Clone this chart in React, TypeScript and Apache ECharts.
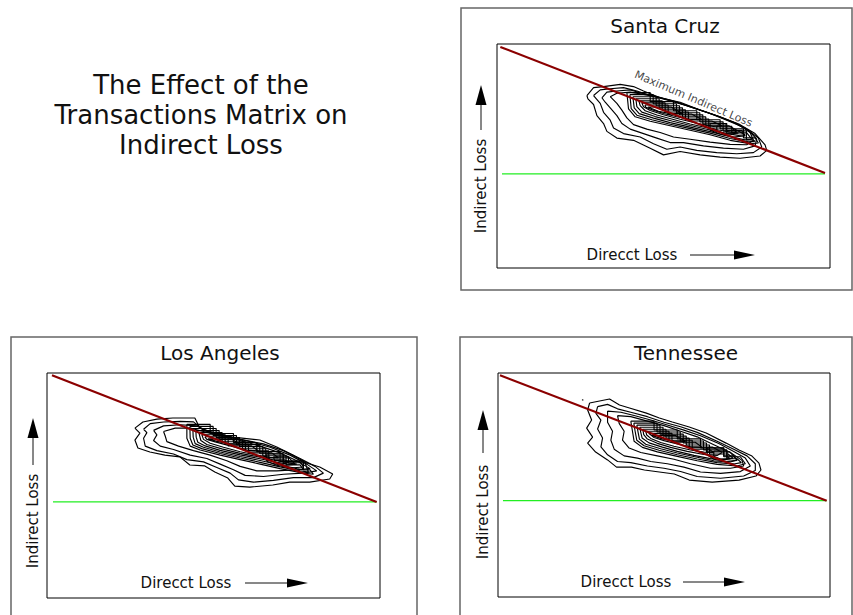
import React, { useEffect, useRef } from "react";
import * as echarts from "echarts";

// ---------- text ----------
const mainTitleLines = ["The Effect of the", "Transactions Matrix on", "Indirect Loss"];
const panelNames = ["Santa Cruz", "Los Angeles", "Tennessee"];
const xAxisName = "Direcct Loss";
const yAxisName = "Indirect Loss";
const maxLineLabel = "Maximum Indirect Loss";

// ---------- data (axis units 0..100 on both axes) ----------
const santaCruzMaxLine = [[1, 98.7], [98.5, 42.4]];
const santaCruzBaseLine = [[1.5, 42], [98.5, 42]];
const santaCruzLabelPoint = [[59, 75.5]];
const santaCruzContours = [
  [[27,77],[29,80.5],[32,81],[37,82],[41,81],[44,79],[49,76],[55,74],[61,70.5],[67,67.5],[73,64],[77.5,60],[80.5,55],[81,52.5],[79,50],[73,49],[67,49.5],[61,50.5],[55,52],[50,50.5],[46,53.5],[41,57],[36,58],[33,61],[32,64.5],[30,68],[29,73],[27.3,75.5],[27,77]],
  [[29,77],[31,79.5],[34,80],[38,80.5],[42,79],[46,77],[51,75],[57,72.5],[63,69.5],[69,66],[74.5,62.5],[78.5,58],[79.5,54],[77,51.5],[72,51],[66,51.5],[60,52.5],[55,54],[51,53],[47,55.5],[43,58.5],[38,60],[35,62.5],[34,66],[32,69.5],[31,73.5],[29,77]],
  [[31.5,76],[33,78.5],[36,79],[40,79.5],[43.5,78],[48,76.5],[53,74.5],[59,71.5],[65,68.5],[71,65],[75.5,61.5],[78,57.5],[77.5,54.5],[74,53],[68,53.5],[62,54.5],[56,56],[52,56],[48,58],[44,60],[40,62],[37.5,64.5],[36,68],[34,71.5],[32.5,74],[31.5,76]],
  [[34,76.5],[36,78],[40,78.5],[44,77.5],[49,76],[54,74],[60,71],[66,68],[72,64.5],[76,60.5],[77,57],[75,55],[70,55.2],[64,56.2],[58,57.5],[53,58.5],[49,60.5],[45,62],[41,64],[39,67],[37.5,70.5],[36,73.5],[34,76.5]],
  [[39,78.3],[46,78.3],[46,74.26],[53,74.26],[53,70.22],[60,70.22],[60,66.18],[67,66.18],[67,62.14],[74,62.14],[74,58.1],[77.5,58.1],[78.5,55.8],[76,55.5],[70,57],[64,59.5],[58,61.5],[52,63.5],[46,65.5],[41.5,67.5],[39.5,71],[39,78.3]],
  [[39.9,77.38],[46.9,77.38],[46.9,73.34],[53.9,73.34],[53.9,69.3],[60.9,69.3],[60.9,65.26],[67.9,65.26],[67.9,61.22],[74.9,61.22],[74.9,57.18],[76.8,57.18],[77.6,56.6],[75.5,56.3],[70,57.8],[64,60.2],[58,62.2],[52,64.2],[46.5,66.2],[42,68.2],[40.3,71.2],[39.9,77.38]],
  [[40.8,76.46],[47.8,76.46],[47.8,72.42],[54.8,72.42],[54.8,68.38],[61.8,68.38],[61.8,64.34],[68.8,64.34],[68.8,60.3],[75,60.3],[76.5,57.5],[74.5,57.2],[70,58.6],[64,60.9],[58,62.9],[52,64.9],[47,66.9],[42.7,68.9],[41.2,71.5],[40.8,76.46]],
  [[41.7,75.54],[48.7,75.54],[48.7,71.5],[55.7,71.5],[55.7,67.46],[62.7,67.46],[62.7,63.42],[69.7,63.42],[74.5,59.5],[72.5,59.2],[69,60],[64,61.6],[58,63.6],[52.5,65.6],[47.5,67.6],[43.5,69.6],[42,72],[41.7,75.54]],
  [[42.6,74.62],[49.6,74.62],[49.6,70.58],[56.6,70.58],[56.6,66.54],[63.6,66.54],[63.6,62.5],[70.5,62.5],[72,60.6],[70,60.7],[64,62.3],[58,64.3],[53,66.3],[48,68.3],[44.5,70.2],[43,72.5],[42.6,74.62]],
  [[43.5,73.7],[50.5,73.7],[50.5,69.66],[57.5,69.66],[57.5,65.62],[64.5,65.62],[67.5,63.5],[65,63.2],[60,64.6],[55,66.4],[50,68.4],[46,70.3],[44,72],[43.5,73.7]],
  [[44.4,72.78],[51.4,72.78],[51.4,68.74],[58.4,68.74],[61.5,66.3],[58,66.3],[54,67.5],[50,69],[46.5,70.7],[44.7,71.8],[44.4,72.78]],
  [[45.3,71.86],[52.3,71.86],[55.5,69],[52,68.9],[48.5,70],[45.3,71.86]],
  [[64,64.5],[69,64.5],[69,61.3],[73.5,61.3],[74.5,59],[71,58.5],[67,59.8],[64,61.5],[64,64.5]],
  [[66,63.3],[70.5,63.3],[70.5,60.5],[72.5,60.2],[69,59.8],[66,61.2],[66,63.3]],
];

const losAngelesMaxLine = [[1.5, 99], [99, 42.7]];
const losAngelesBaseLine = [[1.8, 42.7], [99, 42.7]];
const losAngelesContours = [
  [[26.4,75.5],[28.8,78.2],[33,79.5],[37.8,80],[44.4,80],[45.9,75.5],[50.4,73.3],[55.8,71.5],[63.9,70.2],[69,67.1],[73.8,63.5],[78,60],[81.9,58.2],[85.8,55.1],[84.9,52.9],[78.9,51.5],[72.9,51.5],[67.8,50.2],[60.9,49.3],[56.4,49.7],[54.3,53.3],[50.4,56],[47.4,58.7],[42.9,59.1],[39.9,62.7],[35.4,63.5],[30.9,64.9],[27.3,66.7],[26.4,70.2],[27.9,73.3],[26.4,75.5]],
  [[29,75],[31,77.5],[35,78.2],[40,78.5],[44,78.3],[47,74.5],[52,72.5],[58,70.5],[65,68.5],[71,65.5],[76,62],[80.5,58.5],[83,55.5],[80,53.5],[74,53.5],[68,52.3],[62,51.5],[57.5,52.5],[55,55.5],[51,58],[47,60.5],[42,61.5],[38,64],[33,65.5],[29.5,67.5],[29,71],[30,73.5],[29,75]],
  [[32,74.5],[35,76.5],[40,77],[45,76.5],[49,73.5],[55,71.5],[61,69.5],[67,67],[73,63.5],[78,59.5],[81,56.5],[77,55.5],[71,55],[65,54],[59.5,54.5],[56,57],[52,59.5],[48,62],[43,63.5],[38,66],[34,67.5],[32,70],[33,72.5],[32,74.5]],
  [[35,74],[38.5,75.5],[43,75.5],[47,74],[52,72],[58,70],[64,67.5],[70,64.5],[75,61],[79,57.5],[75,57],[69,56.5],[63,56.5],[58,58.5],[54,61],[49,63.5],[44,65.5],[39.5,67.5],[36,69.5],[35.5,72],[35,74]],
  [[42,77.17],[49,77.17],[49,73.13],[56,73.13],[56,69.09],[63,69.09],[63,65.05],[70,65.05],[70,61.01],[77,61.01],[77,56.97],[79,56.97],[80,55],[77,55.5],[70,57.5],[64,59.5],[58,61.5],[52,63.5],[46,65.8],[43,67.5],[42,71],[42,77.17]],
  [[42.9,76.25],[49.9,76.25],[49.9,72.21],[56.9,72.21],[56.9,68.17],[63.9,68.17],[63.9,64.13],[70.9,64.13],[70.9,60.09],[77.5,60.09],[78.5,56],[76,56.5],[70,58.3],[64,60.3],[58,62.2],[52,64.2],[46.5,66.4],[43.8,68],[43,71],[42.9,76.25]],
  [[43.8,75.33],[50.8,75.33],[50.8,71.29],[57.8,71.29],[57.8,67.25],[64.8,67.25],[64.8,63.21],[71.8,63.21],[71.8,59.17],[76,59.17],[77,57],[75,57.5],[70,59.1],[64,61.1],[58,62.9],[52,64.9],[47,67],[44.5,68.6],[43.9,71.5],[43.8,75.33]],
  [[44.7,74.41],[51.7,74.41],[51.7,70.37],[58.7,70.37],[58.7,66.33],[65.7,66.33],[65.7,62.29],[72.7,62.29],[74.5,59.5],[72,59.6],[69,60.3],[64,61.9],[58,63.6],[52,65.6],[47.5,67.6],[45.3,69.2],[44.8,71.5],[44.7,74.41]],
  [[45.6,73.49],[52.6,73.49],[52.6,69.45],[59.6,69.45],[59.6,65.41],[66.6,65.41],[66.6,61.37],[71.5,61.37],[72.5,60.3],[70,60.7],[64,62.6],[58,64.3],[52.5,66.3],[48,68.2],[46.2,70],[45.6,73.49]],
  [[46.5,72.57],[53.5,72.57],[53.5,68.53],[60.5,68.53],[60.5,64.49],[67.5,64.49],[69.5,62.3],[67,62.5],[63,63.5],[58,65],[53,67],[49,68.8],[47,70.5],[46.5,72.57]],
  [[47.4,71.65],[54.4,71.65],[54.4,67.61],[61.4,67.61],[63.5,65.3],[60,65.7],[55,67.6],[50.5,69.4],[48,70.5],[47.4,71.65]],
  [[48.3,70.73],[55.3,70.73],[58,68.2],[55,68.5],[51,69.6],[48.3,70.73]],
  [[66,64],[71,64],[71,60.6],[76,60.6],[77,58.2],[73,57.8],[69,59],[66,60.8],[66,64]],
  [[68,62.8],[72.5,62.8],[72.5,60],[75,59.5],[71.5,59],[68.5,60.2],[68,62.8]],
];

const tennesseeMaxLine = [[0.6, 99], [99, 43]];
const tennesseeBaseLine = [[1.5, 43], [99, 43]];
const tennesseeDot = [[25.5, 88]];
const tennesseeContours = [
  [[27.6,86.6],[30.6,87.5],[33.6,88.4],[36.6,85.7],[39.6,84.4],[44.7,82.1],[48.6,79.9],[52.5,78.1],[57.6,75.9],[62.7,73.2],[68.7,68.7],[72.6,65.6],[76.5,62.9],[78.6,59.8],[79.2,56.7],[77.7,54],[72.6,52.2],[64.5,51.3],[57.6,52.2],[53.1,54.9],[48.6,55.8],[44.1,56.7],[40.2,58],[35.7,58],[33,61.2],[29.4,64.7],[27,68.7],[28.5,71.4],[26.7,75.4],[28.2,79],[27,83.5],[27.6,86.6]],
  [[30,85],[33,86],[36,84],[40,82.5],[45,80.5],[50,78],[55,76],[60,73.5],[66,69.5],[71,66],[75,63],[77.5,59.5],[77.5,56.5],[74,54],[67,53],[60,53.8],[55,56],[50,57.5],[45,58.5],[40,60],[36,60.5],[33,63.5],[31,67],[31.5,71],[30,75],[31,79],[29.5,82],[30,85]],
  [[33,83],[37,82.5],[41,81],[46,79],[51,76.8],[56,74.5],[61,72],[66.5,68.5],[71,65],[74.5,62],[76,58.5],[73,56],[67,55.2],[61,55.8],[56,58],[51,59.5],[46,60.5],[42,62],[38,63],[35,66],[34,70],[34.5,74],[33,78],[33,83]],
  [[36,81],[40,80.5],[45,78.5],[50,76.5],[55,74],[60,71.5],[65,68],[70,64.5],[73.5,61],[74,58.5],[70,57.5],[64,57.5],[58,59.5],[53,61.5],[48,63],[43,64.5],[39.5,66.5],[37.5,70],[38,74],[36.5,77.5],[36,81]],
  [[40,78.54],[47,78.54],[47,74.56],[54,74.56],[54,70.57],[61,70.57],[61,66.59],[68,66.59],[68,62.61],[73,62.61],[74.5,59.5],[72,58.5],[66,59.2],[60,60.8],[54,62.8],[48,64.8],[43.5,66.8],[41,69.5],[40.5,74],[40,78.54]],
  [[40.9,77.63],[47.9,77.63],[47.9,73.64],[54.9,73.64],[54.9,69.66],[61.9,69.66],[61.9,65.68],[68.9,65.68],[68.9,61.7],[72,61.7],[73.3,60],[71,59.4],[66,60],[60,61.6],[54,63.5],[48.5,65.5],[44,67.5],[41.8,70],[41.3,74],[40.9,77.63]],
  [[41.8,76.72],[48.8,76.72],[48.8,72.73],[55.8,72.73],[55.8,68.75],[62.8,68.75],[62.8,64.77],[69.8,64.77],[72,61.2],[70,60.3],[65,60.8],[60,62.4],[54,64.3],[49,66.2],[44.5,68.2],[42.6,70.5],[42.2,73.5],[41.8,76.72]],
  [[42.7,75.8],[49.7,75.8],[49.7,71.82],[56.7,71.82],[56.7,67.84],[63.7,67.84],[63.7,63.85],[69.3,63.85],[70.8,62],[68.5,61.3],[64,61.8],[59,63.2],[54,65],[49.5,66.9],[45.5,68.8],[43.4,71],[43,73.5],[42.7,75.8]],
  [[43.6,74.89],[50.6,74.89],[50.6,70.91],[57.6,70.91],[57.6,66.93],[64.6,66.93],[67.5,64.5],[66,63.2],[62,63.6],[57,65],[52,66.8],[48,68.6],[45,70.5],[43.9,72.5],[43.6,74.89]],
  [[44.5,73.98],[51.5,73.98],[51.5,69.99],[58.5,69.99],[58.5,66.01],[63.5,66.01],[65,64.5],[62,64.7],[58,65.6],[53,67.3],[49,69],[46,70.8],[44.8,72.3],[44.5,73.98]],
  [[45.4,73.07],[52.4,73.07],[52.4,69.08],[59.4,69.08],[61.5,66.8],[58,67],[54,68.3],[50,69.8],[47,71.2],[45.4,73.07]],
  [[46.3,72.16],[53.3,72.16],[56.5,69.5],[53,69.6],[49.5,70.6],[46.3,72.16]],
  [[63,66.5],[68,66.5],[68,63],[71,63],[72,61],[68.5,60.5],[65,61.5],[63,63.5],[63,66.5]],
  [[65,65.2],[69,65.2],[69,62.5],[70,61.8],[67,61.6],[65,62.8],[65,65.2]],
];

// ---------- layout (pixels) ----------
const FONT = '"DejaVu Sans", Verdana, sans-serif';
const layouts = [
  { grid: { left: 497, top: 44, width: 333, height: 224 }, frame: [461, 8, 391, 282], title: [665, 26],
    yArrow: { x: 481, tip: 85, head: 105, tail: 130 }, yText: [481, 186], xText: [632, 255], xArrow: { x1: 690, x2: 755, head: 734, y: 255 } },
  { grid: { left: 47, top: 373, width: 333, height: 225 }, frame: [11, 337, 406, 300], title: [220, 353],
    yArrow: { x: 33, tip: 418, head: 438, tail: 465 }, yText: [33, 521], xText: [186, 583], xArrow: { x1: 245, x2: 308, head: 287, y: 583 } },
  { grid: { left: 498, top: 373, width: 332, height: 224 }, frame: [460, 337, 392, 300], title: [686, 353],
    yArrow: { x: 483, tip: 410, head: 430, tail: 453 }, yText: [483, 512], xText: [626, 582], xArrow: { x1: 683, x2: 745, head: 724, y: 582 } },
];

const panelData = [
  { contours: santaCruzContours, maxLine: santaCruzMaxLine, baseLine: santaCruzBaseLine },
  { contours: losAngelesContours, maxLine: losAngelesMaxLine, baseLine: losAngelesBaseLine },
  { contours: tennesseeContours, maxLine: tennesseeMaxLine, baseLine: tennesseeBaseLine },
];

const centered = { align: "center", verticalAlign: "middle", textAlign: "center", textVerticalAlign: "middle" };

function buildOption() {
  const grids: any[] = [];
  const xAxes: any[] = [];
  const yAxes: any[] = [];
  const series: any[] = [];
  const graphic: any[] = [];

  graphic.push({
    type: "text", x: 201, y: 115, z: 10,
    style: { text: mainTitleLines.join("\n"), font: `26px ${FONT}`, fill: "#111", lineHeight: 30, ...centered },
  });

  layouts.forEach((L, i) => {
    grids.push({ ...L.grid, show: true, borderColor: "#000", borderWidth: 1, backgroundColor: "transparent" });
    xAxes.push({ gridIndex: i, type: "value", min: 0, max: 100, show: false });
    yAxes.push({ gridIndex: i, type: "value", min: 0, max: 100, show: false });
    const P = panelData[i];
    P.contours.forEach((ring) => {
      series.push({ type: "line", xAxisIndex: i, yAxisIndex: i, data: ring, symbol: "none", silent: true,
        lineStyle: { color: "#000", width: 1.15 }, z: 2 });
    });
    series.push({ type: "line", xAxisIndex: i, yAxisIndex: i, data: P.baseLine, symbol: "none",
      lineStyle: { color: "#22ee22", width: 1.2 }, z: 3 });
    series.push({ type: "line", xAxisIndex: i, yAxisIndex: i, data: P.maxLine, symbol: "none",
      lineStyle: { color: "#8b0000", width: 2.2 }, z: 4 });

    const [fx, fy, fw, fh] = L.frame;
    graphic.push({ type: "rect", shape: { x: fx, y: fy, width: fw, height: fh },
      style: { fill: "none", stroke: "#666", lineWidth: 1.5 }, silent: true });
    graphic.push({ type: "text", x: L.title[0], y: L.title[1],
      style: { text: panelNames[i], font: `20px ${FONT}`, fill: "#111", ...centered } });
    graphic.push({ type: "text", x: L.yText[0], y: L.yText[1], rotation: Math.PI / 2,
      style: { text: yAxisName, font: `15px ${FONT}`, fill: "#111", ...centered } });
    graphic.push({ type: "text", x: L.xText[0], y: L.xText[1],
      style: { text: xAxisName, font: `15px ${FONT}`, fill: "#111", ...centered } });
    const ya = L.yArrow;
    graphic.push({ type: "line", shape: { x1: ya.x, y1: ya.head, x2: ya.x, y2: ya.tail }, style: { stroke: "#111", lineWidth: 1 } });
    graphic.push({ type: "polygon", shape: { points: [[ya.x, ya.tip], [ya.x - 5.5, ya.head], [ya.x + 5.5, ya.head]] }, style: { fill: "#000" } });
    const xa = L.xArrow;
    graphic.push({ type: "line", shape: { x1: xa.x1, y1: xa.y, x2: xa.head, y2: xa.y }, style: { stroke: "#111", lineWidth: 1 } });
    graphic.push({ type: "polygon", shape: { points: [[xa.x2, xa.y], [xa.head, xa.y - 4.5], [xa.head, xa.y + 4.5]] }, style: { fill: "#000" } });
  });

  series.push({ type: "scatter", xAxisIndex: 0, yAxisIndex: 0, data: santaCruzLabelPoint, symbolSize: 0, z: 5,
    itemStyle: { color: "transparent" },
    label: { show: true, position: "inside", rotate: -23, formatter: maxLineLabel, fontFamily: FONT, fontSize: 11,
      color: "#111", textBorderWidth: 0, textBorderColor: "transparent" } });
  series.push({ type: "scatter", xAxisIndex: 2, yAxisIndex: 2, data: tennesseeDot, symbolSize: 1.5,
    itemStyle: { color: "#000" }, z: 5 });

  return { animation: false, backgroundColor: "#fff", grid: grids, xAxis: xAxes, yAxis: yAxes, series, graphic };
}

export default function App() {
  const ref = useRef<HTMLDivElement>(null);
  useEffect(() => {
    if (!ref.current) return;
    const chart = echarts.init(ref.current, undefined, { renderer: "svg" });
    chart.setOption(buildOption() as any);
    return () => chart.dispose();
  }, []);
  return <div ref={ref} style={{ position: "fixed", left: 0, top: 0, width: 853, height: 615 }} />;
}
